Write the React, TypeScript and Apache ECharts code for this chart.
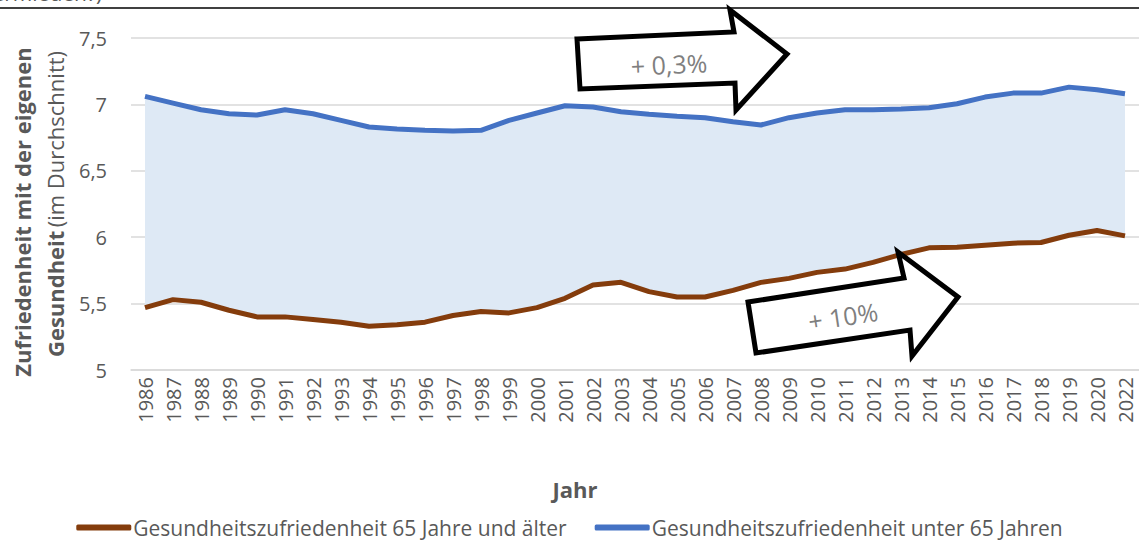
import React, { useEffect, useRef } from "react";
import * as echarts from "echarts";

const years = ["1986","1987","1988","1989","1990","1991","1992","1993","1994","1995","1996","1997","1998","1999","2000","2001","2002","2003","2004","2005","2006","2007","2008","2009","2010","2011","2012","2013","2014","2015","2016","2017","2018","2019","2020","2022"];

const under65 = [7.06,7.01,6.96,6.93,6.92,6.96,6.93,6.88,6.83,6.815,6.805,6.80,6.805,6.88,6.935,6.99,6.98,6.945,6.925,6.91,6.90,6.87,6.845,6.90,6.935,6.96,6.96,6.965,6.975,7.005,7.055,7.085,7.085,7.13,7.11,7.08];

const over65 = [5.47,5.53,5.51,5.45,5.40,5.40,5.38,5.36,5.33,5.34,5.36,5.41,5.44,5.43,5.47,5.54,5.64,5.66,5.59,5.55,5.55,5.60,5.66,5.69,5.735,5.76,5.81,5.87,5.92,5.925,5.94,5.955,5.96,6.015,6.05,6.01];

const nameOld = "Gesundheitszufriedenheit 65 Jahre und älter";
const nameYoung = "Gesundheitszufriedenheit unter 65 Jahren";

const FONT = "'Open Sans', 'Noto Sans', sans-serif";
const GREY = "#595959";

export default function App() {
  const ref = useRef<HTMLDivElement>(null);
  useEffect(() => {
    if (!ref.current) return;
    const chart = echarts.init(ref.current, undefined, { renderer: "svg" });
    const diff = under65.map((v, i) => +(v - over65[i]).toFixed(4));
    chart.setOption({
      animation: false,
      textStyle: { fontFamily: FONT },
      grid: { left: 131, right: -3, top: 38, bottom: 173 },
      xAxis: {
        type: "category",
        data: years,
        boundaryGap: true,
        axisLine: { show: true, lineStyle: { color: "#d9d9d9", width: 1.5 } },
        axisTick: { show: false },
        axisLabel: { rotate: 90, color: GREY, fontSize: 20, margin: 7, interval: 0, fontFamily: FONT },
      },
      yAxis: {
        type: "value",
        min: 5,
        max: 7.5,
        interval: 0.5,
        axisLine: { show: false },
        axisTick: { show: false },
        splitLine: { lineStyle: { color: "#d9d9d9", width: 1.5 } },
        axisLabel: {
          color: GREY,
          fontSize: 20,
          margin: 24,
          fontFamily: FONT,
          formatter: (v: number) => String(v).replace(".", ","),
        },
      },
      legend: {
        bottom: 0,
        left: "center",
        data: [nameOld, nameYoung],
        itemWidth: 55,
        itemHeight: 6,
        itemGap: 28,
        icon: "roundRect",
        textStyle: { color: GREY, fontSize: 21, fontFamily: FONT, padding: [0, 0, 0, -3] },
      },
      series: [
        {
          name: "base",
          type: "line",
          stack: "band",
          data: over65,
          symbol: "none",
          lineStyle: { opacity: 0 },
          silent: true,
          z: 1,
        },
        {
          name: "band",
          type: "line",
          stack: "band",
          data: diff,
          symbol: "none",
          lineStyle: { opacity: 0 },
          areaStyle: { color: "#DEE9F5", opacity: 1 },
          silent: true,
          z: 1,
        },
        {
          name: nameOld,
          type: "line",
          data: over65,
          symbol: "none",
          color: "#843C0C",
          lineStyle: { color: "#843C0C", width: 5 },
          z: 3,
        },
        {
          name: nameYoung,
          type: "line",
          data: under65,
          symbol: "none",
          color: "#4472C4",
          lineStyle: { color: "#4472C4", width: 5 },
          z: 3,
        },
      ],
      graphic: [
        {
          type: "line",
          shape: { x1: 0, y1: 8, x2: 1139, y2: 8 },
          style: { stroke: "#000", lineWidth: 1.5 },
          z: 10,
        },
        {
          type: "text",
          x: -18,
          y: 3,
          style: { text: "vermieden?)", fontSize: 21, fill: GREY, fontFamily: FONT, align: "left", verticalAlign: "bottom" },
          z: 10,
        },
        {
          type: "text",
          x: 575,
          y: 489,
          style: { text: "Jahr", fontSize: 22, fontWeight: "bold", fill: GREY, fontFamily: FONT, align: "center", verticalAlign: "middle" },
          z: 10,
        },
        {
          type: "text",
          x: 22,
          y: 212,
          rotation: Math.PI / 2,
          style: {
            text: "Zufriedenheit mit der eigenen",
            fontSize: 22,
            fontWeight: "bold",
            fill: GREY,
            fontFamily: FONT,
            align: "center",
            verticalAlign: "middle",
          },
          z: 10,
        },
        {
          type: "text",
          x: 55,
          y: 204,
          rotation: Math.PI / 2,
          style: {
            text: "{b|Gesundheit} {n|(im Durchschnitt)}",
            fill: GREY,
            align: "center",
            verticalAlign: "middle",
            rich: {
              b: { fontSize: 22, fontWeight: "bold", fill: GREY, fontFamily: FONT },
              n: { fontSize: 22, fontWeight: "normal", fill: GREY, fontFamily: FONT },
            },
          },
          z: 10,
        },
        {
          type: "polygon",
          shape: {
            points: [[577, 39], [734, 32], [730, 10], [787, 54], [736, 110], [735, 83], [580, 89]],
          },
          style: { fill: "#fff", stroke: "#000", lineWidth: 5, lineJoin: "miter" },
          z: 20,
        },
        {
          type: "text",
          x: 669,
          y: 64,
          rotation: 0.045,
          style: { text: "+ 0,3%", fontSize: 25, fill: "#7f7f7f", fontFamily: FONT, align: "center", verticalAlign: "middle" },
          z: 21,
        },
        {
          type: "polygon",
          shape: {
            points: [[748, 302], [904, 278], [898, 252], [958, 297], [912, 356], [910, 330], [756, 353]],
          },
          style: { fill: "#fff", stroke: "#000", lineWidth: 5, lineJoin: "miter" },
          z: 20,
        },
        {
          type: "text",
          x: 843,
          y: 316,
          rotation: 0.147,
          style: { text: "+ 10%", fontSize: 25, fill: "#7f7f7f", fontFamily: FONT, align: "center", verticalAlign: "middle" },
          z: 21,
        },
      ],
    });
    return () => chart.dispose();
  }, []);
  return <div ref={ref} style={{ position: "fixed", left: 0, top: 0, width: 1139, height: 543, background: "#fff" }} />;
}
